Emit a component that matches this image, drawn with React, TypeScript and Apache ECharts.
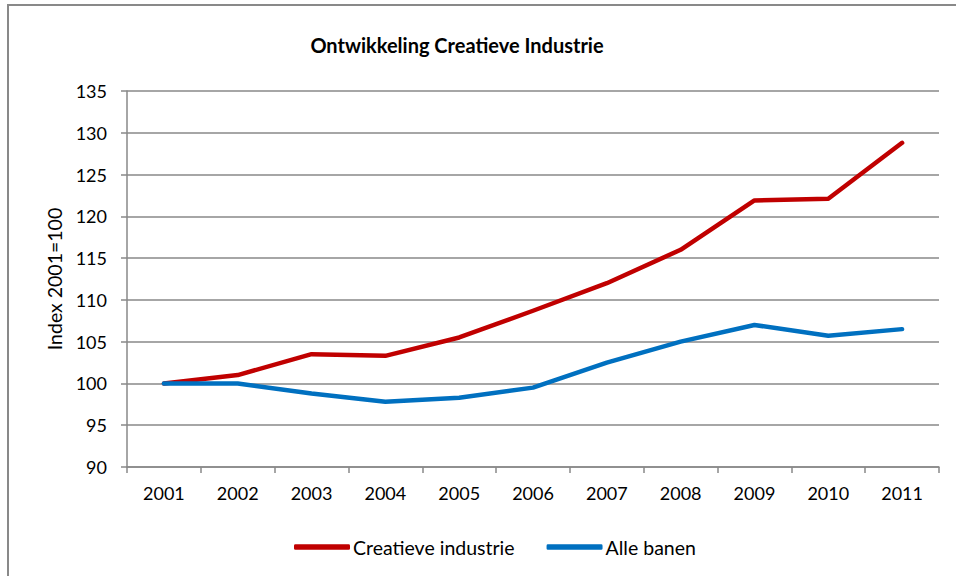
import React, { useEffect, useRef } from "react";
import * as echarts from "echarts";

const years = ["2001", "2002", "2003", "2004", "2005", "2006", "2007", "2008", "2009", "2010", "2011"];
const creatieveIndustrie = [100, 101, 103.5, 103.3, 105.5, 108.7, 112, 116, 121.9, 122.1, 128.8];
const alleBanen = [100, 100, 98.8, 97.8, 98.3, 99.5, 102.5, 105, 107, 105.7, 106.5];
const yTicks = { min: 90, max: 135, interval: 5 };

const FONT = "Lato";
const GRAY = "#898989";

export default function App() {
  const ref = useRef<HTMLDivElement>(null);
  useEffect(() => {
    if (!ref.current) return;
    const chart = echarts.init(ref.current, null, { renderer: "svg" });
    chart.setOption({
      animation: false,
      backgroundColor: "#ffffff",
      textStyle: { fontFamily: FONT },
      title: {
        text: "Ontwikkeling Creatieve Industrie",
        left: 452,
        textAlign: "center",
        top: 30,
        textStyle: { fontFamily: FONT, fontWeight: "bold", fontSize: 20, color: "#000" },
      },
      graphic: [
        {
          type: "rect",
          shape: { x: 8, y: 5, width: 1200, height: 1200 },
          style: { fill: "none", stroke: GRAY, lineWidth: 2 },
          silent: true,
        },
      ],
      legend: {
        left: 289,
        top: 532,
        itemWidth: 56,
        itemHeight: 5.5,
        itemGap: 32,
        icon: "roundRect",
        textStyle: { fontFamily: FONT, fontSize: 19.5, color: "#000", padding: [0, 0, 0, -2] },
        data: ["Creatieve industrie", "Alle banen"],
      },
      grid: { left: 127, right: 17, top: 91, bottom: 109, containLabel: false },
      xAxis: {
        type: "category",
        data: years,
        boundaryGap: true,
        axisLine: { lineStyle: { color: GRAY, width: 1.5 } },
        axisTick: { show: true, length: 6, alignWithLabel: false, lineStyle: { color: GRAY, width: 1.5 } },
        axisLabel: { color: "#000", fontFamily: FONT, fontSize: 18, margin: 17 },
        splitLine: { show: false },
      },
      yAxis: {
        type: "value",
        min: yTicks.min,
        max: yTicks.max,
        interval: yTicks.interval,
        name: "Index 2001=100",
        nameLocation: "middle",
        nameRotate: 90,
        nameGap: 60,
        nameTextStyle: { color: "#000", fontFamily: FONT, fontSize: 19.5 },
        axisLine: { show: true, lineStyle: { color: GRAY, width: 1.5 } },
        axisTick: { show: true, length: 6, lineStyle: { color: GRAY, width: 1.5 } },
        axisLabel: { color: "#000", fontFamily: FONT, fontSize: 18, margin: 20 },
        splitLine: { show: true, lineStyle: { color: GRAY, width: 1.5 } },
      },
      series: [
        {
          name: "Creatieve industrie",
          type: "line",
          data: creatieveIndustrie,
          symbol: "none",
          color: "#C00000",
          lineStyle: { color: "#C00000", width: 4.5, cap: "round", join: "round" },
        },
        {
          name: "Alle banen",
          type: "line",
          data: alleBanen,
          symbol: "none",
          color: "#0070C0",
          lineStyle: { color: "#0070C0", width: 4.5, cap: "round", join: "round" },
        },
      ],
    });
    return () => chart.dispose();
  }, []);
  return (
    <div
      ref={ref}
      style={{ position: "fixed", left: 0, top: 0, width: 956, height: 576 }}
    />
  );
}
